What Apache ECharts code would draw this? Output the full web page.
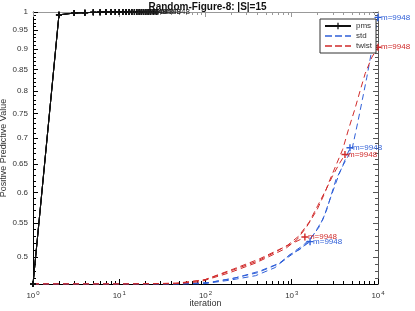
<!DOCTYPE html>
<html><head><meta charset="utf-8">
<script src="https://cdn.jsdelivr.net/npm/echarts@6/dist/echarts.min.js"></script>
<style>html,body{margin:0;padding:0;background:#fff}#c{width:415px;height:311px}</style>
</head><body><div id="c"></div>
<script>
// ---- tick labels ----
const xMajorTicks = [1, 10, 100, 1000, 10000];
const xMinorTicks = [2,3,4,5,6,7,8,9,20,30,40,50,60,70,80,90,200,300,400,500,600,700,800,900,2000,3000,4000,5000,6000,7000,8000,9000];
const yMajorTicks = [0.5,0.55,0.6,0.65,0.7,0.75,0.8,0.85,0.9,0.95,1];
const yMinorTicks = [0.47,0.48,0.49,0.51,0.52,0.53,0.54,0.56,0.57,0.58,0.59,0.61,0.62,0.63,0.64,0.66,0.67,0.68,0.69,0.71,0.72,0.73,0.74,0.76,0.77,0.78,0.79,0.81,0.82,0.83,0.84,0.86,0.87,0.88,0.89,0.91,0.92,0.93,0.94,0.96,0.97,0.98,0.99];
const endText = 'm=9948';

// ---- pms (every iteration marked) ----
const pmsIter = [1,2,3,4,5,6,7,8,9,10,11,12,13,14,15,16,17,18,19,20,21,22,23,24,25,26,27,28];
const pmsVals = [0.463,0.992,0.997,0.998,0.999,0.9995,1,1,1,1,1,1,1,1,1,1,1,1,1,1,1,1,1,1,1,1,1,1];
const pmsRunEnds = [12, 15, 18, 22, 28];

// ---- std runs ----
const stdIterA = [1,10,40,90,190,380,640,950,1300,1620,2100,2540,3250,4000,5000,5800,6600,7400,8100,9000,10000];
const stdValA  = [0.463,0.463,0.463,0.463,0.468,0.474,0.485,0.503,0.512,0.525,0.545,0.571,0.622,0.65,0.678,0.73,0.781,0.83,0.875,0.93,0.985];
const stdIterB = [1,12,45,100,200,400,700,1000,1400,1800,2300,2800,3500,4200,4730];
const stdValB  = [0.463,0.463,0.463,0.464,0.470,0.478,0.49,0.505,0.518,0.533,0.556,0.59,0.63,0.66,0.681];
const stdIterC = [1,15,50,110,220,420,750,1100,1400,1630];
const stdValC  = [0.463,0.463,0.463,0.465,0.471,0.48,0.492,0.507,0.516,0.522];

// ---- twist runs ----
const twistIterA = [1,10,40,87,190,375,605,850,1150,1500,1960,2400,2770,3300,3900,4600,5400,6200,7100,8500,10000];
const twistValA  = [0.463,0.463,0.463,0.466,0.478,0.491,0.503,0.512,0.525,0.545,0.571,0.598,0.622,0.65,0.678,0.72,0.76,0.80,0.84,0.88,0.905];
const twistIterB = [1,12,45,95,200,400,650,900,1200,1600,2000,2500,3000,3600,4140];
const twistValB  = [0.463,0.463,0.464,0.468,0.481,0.494,0.507,0.517,0.53,0.552,0.578,0.605,0.63,0.652,0.668];
const twistIterC = [1,14,50,100,210,420,700,1000,1250,1420];
const twistValC  = [0.463,0.463,0.464,0.469,0.483,0.497,0.51,0.519,0.525,0.529];

const BLUE = '#2f5fd8', RED = '#d02a2a', BLACK = '#111';
const FONT = 'Liberation Sans';
const plusPath = 'path://M4,0H6V4H10V6H6V10H4V6H0V4H4Z';
const dashIcon = 'path://M0,0H7V1.4H0Z M10,0H17V1.4H10Z M20,0H26V1.4H20Z';

function dashedRun(name, iters, vals, color) {
  const last = iters.length - 1;
  return {
    name, type: 'line', xAxisIndex: 0, yAxisIndex: 0,
    symbol: 'none', showSymbol: true, animation: false,
    lineStyle: { color, width: 1, type: [6, 4] },
    itemStyle: { color },
    data: iters.map((x, i) => i === last ? { value: [x, vals[i]], symbol: plusPath, symbolSize: 7 } : [x, vals[i]]),
    endLabel: { show: true, formatter: endText, color, fontSize: 8, fontFamily: FONT, distance: 3 },
    z: 3
  };
}
function pmsRun(end) {
  const iters = pmsIter.filter(x => x <= end);
  return {
    name: 'pms', type: 'line', xAxisIndex: 0, yAxisIndex: 0,
    symbol: plusPath, symbolSize: 6, showSymbol: true, animation: false,
    lineStyle: { color: BLACK, width: 1 },
    itemStyle: { color: BLACK },
    data: iters.map((x, i) => [x, pmsVals[i]]),
    endLabel: { show: true, formatter: endText, color: '#222', fontSize: 8, fontFamily: FONT, distance: 3 },
    z: 4
  };
}

const series = [
  ...pmsRunEnds.map(pmsRun),
  dashedRun('std', stdIterA, stdValA, BLUE),
  dashedRun('std', stdIterB, stdValB, BLUE),
  dashedRun('std', stdIterC, stdValC, BLUE),
  dashedRun('twist', twistIterA, twistValA, RED),
  dashedRun('twist', twistIterB, twistValB, RED),
  dashedRun('twist', twistIterC, twistValC, RED)
];

function xAxisDef(position, ticks, len, showLine, lineColor, labels) {
  return {
    type: 'log', logBase: 10, min: 1, max: 10000, position,
    axisLine: { show: showLine, lineStyle: { color: lineColor, width: 1 } },
    axisTick: { show: true, inside: true, length: len, customValues: ticks, lineStyle: { color: lineColor } },
    axisLabel: labels ? {
      show: true, margin: 6, customValues: xMajorTicks,
      formatter: v => '{b|10}{s|' + Math.round(Math.log10(v)) + '}',
      rich: { b: { fontSize: 8, color: '#333', fontFamily: FONT }, s: { fontSize: 6, color: '#333', fontFamily: FONT, padding: [0, 0, 6, 1] } }
    } : { show: false },
    splitLine: { show: false }, minorTick: { show: false }
  };
}
function yAxisDef(position, ticks, len, showLine, lineColor, labels) {
  return {
    type: 'log', logBase: 10, min: 0.463, max: 1, position,
    axisLine: { show: showLine, lineStyle: { color: lineColor, width: 1 } },
    axisTick: { show: true, inside: true, length: len, customValues: ticks, lineStyle: { color: lineColor } },
    axisLabel: labels ? {
      show: true, margin: 5, customValues: yMajorTicks, fontSize: 8, color: '#333', fontFamily: FONT,
      formatter: v => String(+(+v).toFixed(2))
    } : { show: false },
    splitLine: { show: false }, minorTick: { show: false }
  };
}

const xAxes = [
  Object.assign(xAxisDef('bottom', xMajorTicks, 5, true, '#000', true), {
    name: 'iteration', nameLocation: 'middle', nameGap: 15, nameMoveOverlap: false,
    nameTextStyle: { fontSize: 9, color: '#333', fontFamily: FONT }
  }),
  xAxisDef('bottom', xMinorTicks, 3, false, '#000', false),
  xAxisDef('top', xMajorTicks, 5, true, '#999', false),
  xAxisDef('top', xMinorTicks, 3, false, '#999', false)
];
const yAxes = [
  Object.assign(yAxisDef('left', yMajorTicks, 5, true, '#000', true), {
    name: 'Positive Predictive Value', nameLocation: 'middle', nameGap: 25, nameMoveOverlap: false,
    nameTextStyle: { fontSize: 9, color: '#333', fontFamily: FONT }
  }),
  yAxisDef('left', yMinorTicks, 3, false, '#000', false),
  yAxisDef('right', yMajorTicks, 5, true, '#555', false),
  yAxisDef('right', yMinorTicks, 3, false, '#555', false)
];

const chart = echarts.init(document.getElementById('c'), null, { renderer: 'canvas' });
chart.setOption({
  animation: false,
  backgroundColor: '#fff',
  title: {
    text: 'Random-Figure-8: |S|=15', left: 'center', top: -3,
    textStyle: { fontSize: 10, fontWeight: 'bold', color: '#111', fontFamily: FONT }
  },
  grid: { left: 33, right: 37, top: 12, bottom: 27, containLabel: false, outerBoundsMode: 'none' },
  legend: {
    data: [{ name: 'pms' }, { name: 'std', icon: dashIcon }, { name: 'twist', icon: dashIcon }],
    orient: 'vertical', left: 320, top: 19,
    backgroundColor: '#fff', borderColor: '#333', borderWidth: 1, borderRadius: 0,
    padding: [3, 4, 3, 4], itemGap: 2, itemWidth: 26, itemHeight: 8,
    textStyle: { fontSize: 8, color: '#333', fontFamily: FONT }
  },
  xAxis: xAxes,
  yAxis: yAxes,
  series
});
</script></body></html>
